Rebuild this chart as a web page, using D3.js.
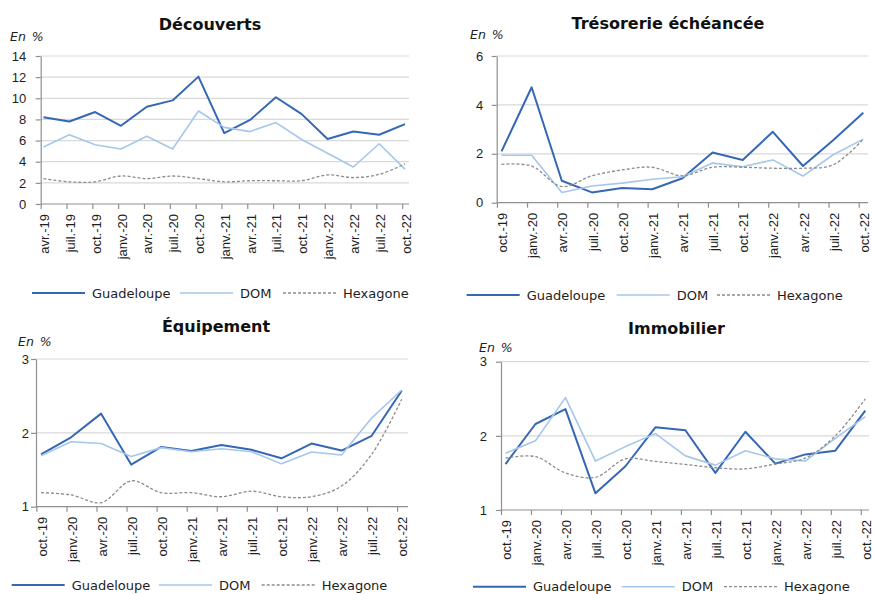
<!DOCTYPE html>
<html lang="fr">
<head>
<meta charset="utf-8">
<script src="https://cdn.jsdelivr.net/npm/d3@7/dist/d3.min.js"></script>
<style>
  html, body { margin: 0; padding: 0; background: #fff; }
  svg { display: block; font-family: "DejaVu Sans", Verdana, sans-serif; }
</style>
</head>
<body>
<svg id="chart" width="873" height="594"></svg>
<script>
// Trimestres affichés sur l'axe des abscisses
const moisDecouverts = ["avr.-19","juil.-19","oct.-19","janv.-20","avr.-20","juil.-20","oct.-20",
  "janv.-21","avr.-21","juil.-21","oct.-21","janv.-22","avr.-22","juil.-22","oct.-22"];
const moisCredits = ["oct.-19","janv.-20","avr.-20","juil.-20","oct.-20","janv.-21","avr.-21",
  "juil.-21","oct.-21","janv.-22","avr.-22","juil.-22","oct.-22"];

const seriesNames = ["Guadeloupe", "DOM", "Hexagone"];

// Découverts (en %)
const decouvertsGuadeloupe = [8.2, 7.8, 8.7, 7.4, 9.2, 9.8, 12.05, 6.7, 7.95, 10.1, 8.5, 6.15, 6.85, 6.55, 7.55];
const decouvertsDom        = [5.4, 6.55, 5.6, 5.2, 6.4, 5.2, 8.8, 7.25, 6.85, 7.7, 6.1, 4.8, 3.5, 5.7, 3.3];
const decouvertsHexagone   = [2.4, 2.1, 2.1, 2.65, 2.4, 2.65, 2.4, 2.1, 2.2, 2.2, 2.2, 2.75, 2.5, 2.8, 3.8];

// Trésorerie échéancée (en %)
const tresorerieGuadeloupe = [2.1, 4.72, 0.9, 0.42, 0.6, 0.55, 1.0, 2.05, 1.75, 2.9, 1.5, 2.55, 3.68];
const tresorerieDom        = [1.94, 1.94, 0.42, 0.68, 0.8, 0.96, 1.06, 1.62, 1.47, 1.75, 1.09, 1.96, 2.6];
const tresorerieHexagone   = [1.57, 1.5, 0.66, 1.1, 1.34, 1.45, 1.1, 1.45, 1.45, 1.41, 1.41, 1.55, 2.6];

// Équipement (en %)
const equipementGuadeloupe = [1.71, 1.94, 2.26, 1.57, 1.81, 1.755, 1.835, 1.77, 1.655, 1.855, 1.76, 1.96, 2.57];
const equipementDom        = [1.69, 1.88, 1.855, 1.68, 1.8, 1.745, 1.785, 1.745, 1.58, 1.74, 1.70, 2.2, 2.58];
const equipementHexagone   = [1.19, 1.16, 1.055, 1.35, 1.19, 1.19, 1.135, 1.21, 1.135, 1.135, 1.28, 1.71, 2.455];

// Immobilier (en %)
const immobilierGuadeloupe = [1.62, 2.16, 2.36, 1.225, 1.59, 2.115, 2.075, 1.5, 2.055, 1.625, 1.75, 1.8, 2.34];
const immobilierDom        = [1.765, 1.935, 2.515, 1.66, 1.855, 2.03, 1.73, 1.605, 1.8, 1.69, 1.66, 1.965, 2.26];
const immobilierHexagone   = [1.70, 1.72, 1.50, 1.44, 1.69, 1.655, 1.615, 1.57, 1.555, 1.62, 1.70, 2.0, 2.5];

const yTicksDecouverts = [0, 2, 4, 6, 8, 10, 12, 14];
const yTicksTresorerie = [0, 2, 4, 6];
const yTicksCredits    = [1, 2, 3];

// Apparence des séries
const styles = {
  Guadeloupe: { color: "#3567b4", width: 2.0, dash: null, smooth: false },
  DOM:        { color: "#a5c7ea", width: 1.6, dash: null, smooth: false },
  Hexagone:   { color: "#8c8c8c", width: 1.3, dash: "3,2", smooth: true }
};

const panels = [
  { title: "Découverts", titleX: 210, titleY: 30, unitX: 10, unitY: 41,
    cats: moisDecouverts, values: [decouvertsGuadeloupe, decouvertsDom, decouvertsHexagone],
    yDomain: [0, 14], yTicks: yTicksDecouverts,
    left: 40.7, right: 409, top: 56, bottom: 204, firstX: 43.5, lastX: 405, tickShift: 2.8,
    labelGap: 14.5, legendY: 293, legendX: [32, 180, 283] },
  { title: "Trésorerie échéancée", titleX: 668, titleY: 28.5, unitX: 470, unitY: 38.5,
    cats: moisCredits, values: [tresorerieGuadeloupe, tresorerieDom, tresorerieHexagone],
    yDomain: [0, 6], yTicks: yTicksTresorerie,
    left: 496.7, right: 868, top: 56, bottom: 202.7, firstX: 501.5, lastX: 863.3, tickShift: 4.6,
    labelGap: 13.5, legendY: 295, legendX: [466.7, 616.7, 717] },
  { title: "Équipement", titleX: 216, titleY: 331.5, unitX: 18, unitY: 345.5,
    cats: moisCredits, values: [equipementGuadeloupe, equipementDom, equipementHexagone],
    yDomain: [1, 3], yTicks: yTicksCredits,
    left: 36, right: 408, top: 359, bottom: 506.7, firstX: 41, lastX: 401.7, tickShift: 4.6,
    labelGap: 7, legendY: 585, legendX: [11.7, 159, 261.7] },
  { title: "Immobilier", titleX: 676.5, titleY: 334, unitX: 479, unitY: 351.5,
    cats: moisCredits, values: [immobilierGuadeloupe, immobilierDom, immobilierHexagone],
    yDomain: [1, 3], yTicks: yTicksCredits,
    left: 501, right: 869, top: 361.7, bottom: 510, firstX: 505.5, lastX: 865.3, tickShift: 4.5,
    labelGap: 14, legendY: 586.7, legendX: [473, 621.7, 724] }
];

const svg = d3.select("#chart");
svg.append("rect").attr("width", 873).attr("height", 594).attr("fill", "#fff");

const textColor = "#1e1e1e";
const axisColor = "#8f8f8f";
const gridColor = "#d9d9d9";
const tickLen = 5;

function drawPanel(p) {
  const g = svg.append("g");

  const x = d3.scalePoint().domain(p.cats).range([p.firstX, p.lastX]);
  const y = d3.scaleLinear().domain(p.yDomain).range([p.bottom, p.top]);

  // Quadrillage horizontal
  g.append("g").selectAll("line")
    .data(p.yTicks.filter(t => t !== p.yDomain[0]))
    .join("line")
    .attr("x1", p.left).attr("x2", p.right)
    .attr("y1", d => y(d)).attr("y2", d => y(d))
    .attr("stroke", gridColor).attr("stroke-width", 1.2);

  // Axe vertical
  const yAxis = g.append("g")
    .attr("transform", `translate(${p.left},0)`)
    .call(d3.axisLeft(y).tickValues(p.yTicks).tickSize(tickLen).tickSizeOuter(0)
      .tickPadding(p.labelGap - tickLen).tickFormat(d3.format("d")));
  yAxis.select(".domain").attr("stroke", axisColor).attr("stroke-width", 1.2);
  yAxis.selectAll(".tick line").attr("stroke", axisColor).attr("stroke-width", 1.2);
  yAxis.selectAll(".tick text").attr("fill", textColor).attr("font-size", 13);

  // Axe horizontal
  const xAxis = g.append("g")
    .attr("transform", `translate(0,${p.bottom})`)
    .call(d3.axisBottom(x).tickSize(tickLen).tickSizeOuter(0));
  xAxis.select(".domain")
    .attr("d", `M${p.left},0H${p.right}`)
    .attr("stroke", axisColor).attr("stroke-width", 1.2);
  xAxis.selectAll(".tick line")
    .attr("x1", -p.tickShift).attr("x2", -p.tickShift)
    .attr("stroke", axisColor).attr("stroke-width", 1.2);
  xAxis.selectAll(".tick text")
    .attr("fill", textColor).attr("font-size", 13)
    .attr("transform", "rotate(-90)")
    .attr("text-anchor", "end")
    .attr("x", -10).attr("y", 0.5).attr("dy", "0.35em");

  // Séries
  p.values.forEach((vals, i) => {
    const st = styles[seriesNames[i]];
    const line = d3.line()
      .x((d, j) => x(p.cats[j]))
      .y(d => y(d))
      .curve(st.smooth ? d3.curveCatmullRom.alpha(0.5) : d3.curveLinear);
    g.append("path")
      .datum(vals)
      .attr("d", line)
      .attr("fill", "none")
      .attr("stroke", st.color)
      .attr("stroke-width", st.width)
      .attr("stroke-linejoin", "round")
      .attr("stroke-dasharray", st.dash);
  });

  // Titre et unité
  g.append("text")
    .attr("x", p.titleX).attr("y", p.titleY)
    .attr("text-anchor", "middle")
    .attr("font-size", 16).attr("font-weight", "bold")
    .attr("fill", "#111")
    .text(p.title);
  g.append("text")
    .attr("x", p.unitX).attr("y", p.unitY)
    .attr("font-size", 12.5).attr("font-style", "italic")
    .attr("word-spacing", 2)
    .attr("fill", textColor)
    .text("En %");

  // Légende
  seriesNames.forEach((name, i) => {
    const st = styles[name];
    const lx = p.legendX[i];
    g.append("line")
      .attr("x1", lx).attr("x2", lx + 53)
      .attr("y1", p.legendY).attr("y2", p.legendY)
      .attr("stroke", st.color).attr("stroke-width", st.width)
      .attr("stroke-dasharray", st.dash);
    g.append("text")
      .attr("x", lx + 60).attr("y", p.legendY + 4.5)
      .attr("font-size", 13).attr("fill", textColor)
      .text(name);
  });
}

panels.forEach(drawPanel);
</script>
</body>
</html>
